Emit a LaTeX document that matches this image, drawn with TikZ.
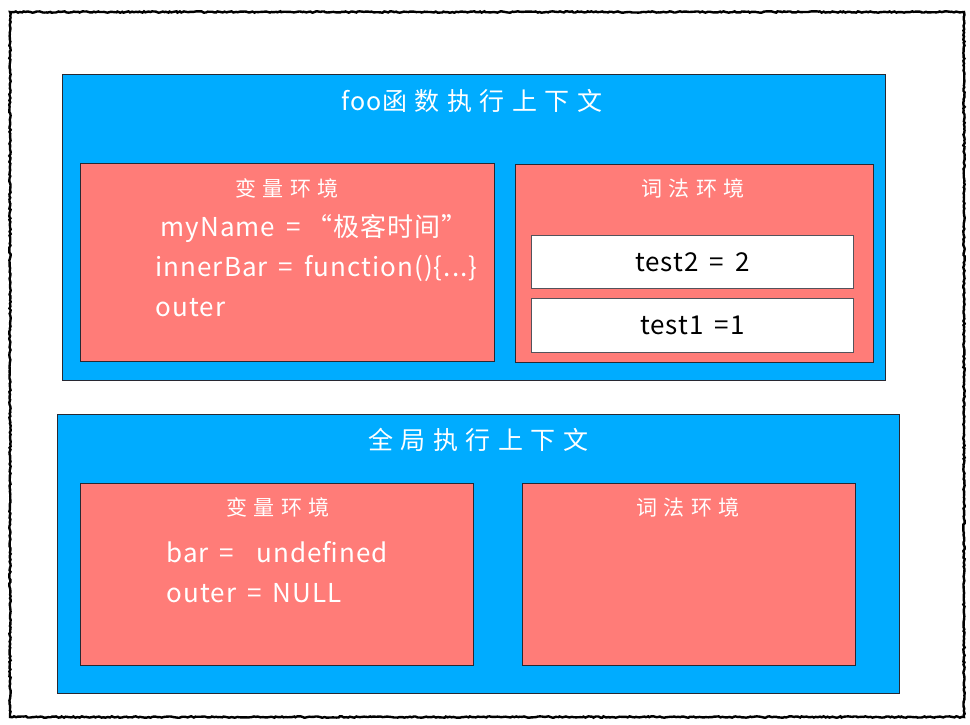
\documentclass[tikz,border=0pt]{standalone}
\usepackage{fontspec}
\usepackage{xcolor}
\setmainfont{Noto Sans CJK SC}
\newfontfamily\titlefont[LetterSpace=30]{Noto Sans CJK SC}
\newfontfamily\codefont[LetterSpace=4, WordSpace=1.6]{Noto Sans CJK SC}
\usetikzlibrary{decorations.pathmorphing}
\definecolor{ctxblue}{RGB}{0,172,255}
\definecolor{envred}{RGB}{255,124,120}
\definecolor{edgegray}{RGB}{40,40,50}

\tikzset{
  ctxbox/.style={draw=edgegray, line width=1.3pt, fill=ctxblue, anchor=north west, inner sep=0pt},
  envbox/.style={draw=edgegray, line width=1.3pt, fill=envred, anchor=north west, inner sep=0pt},
  slotbox/.style={draw=edgegray!80, line width=0.8pt, fill=white, anchor=north west, inner sep=0pt},
  ctxtitle/.style={text=white, font=\titlefont\fontsize{25}{30}\selectfont},
  envtitle/.style={text=white, font=\titlefont\fontsize{21}{26}\selectfont},
  codeline/.style={text=white, anchor=west, font=\codefont\fontsize{26}{30}\selectfont},
  slottext/.style={text=black, font=\codefont\fontsize{26}{30}\selectfont}
}

\begin{document}
\begin{tikzpicture}[x=1pt,y=-1pt]
  \useasboundingbox (0,0) rectangle (970,724);

%sketchy outer frame:
  \draw[line width=2.4pt, decorate, decoration={random steps, segment length=2pt, amplitude=0.7pt}]
    (10,12) rectangle (964,717);

%foo context:
  \node[ctxbox, minimum width=823pt, minimum height=306pt] (fooctx) at (62,74) {};
  \node[ctxtitle] (footitle) at (472,101) {{\codefont foo}函数执行上下文};

  \node[envbox, minimum width=414pt, minimum height=198pt] (foovar) at (80,163) {};
  \node[envtitle] (foovartitle) at (287,188) {变量环境};
  \node[codeline] (myname) at (157,228) {myName = \kern-5pt“极客时间”};
  \node[codeline] (innerbar) at (152,268) {innerBar = function()\{...\}};
  \node[codeline] (fooouter) at (152,308) {outer};

  \node[envbox, minimum width=358pt, minimum height=198pt] (foolex) at (515,164) {};
  \node[envtitle] (foolextitle) at (693,188) {词法环境};
  \node[slotbox, minimum width=322pt, minimum height=53pt] (slottwo) at (531,235) {};
  \node[slottext] (testtwo) at (slottwo.center) {test2 = 2};
  \node[slotbox, minimum width=322pt, minimum height=54pt] (slotone) at (531,298) {};
  \node[slottext] (testone) at (slotone.center) {test1 =1};

%global context:
  \node[ctxbox, minimum width=842pt, minimum height=279pt] (globalctx) at (57,414) {};
  \node[ctxtitle] (globaltitle) at (478,440) {全局执行上下文};

  \node[envbox, minimum width=393pt, minimum height=182pt] (globalvar) at (80,483) {};
  \node[envtitle] (globalvartitle) at (278,507) {变量环境};
  \node[codeline] (barline) at (163,552) {bar =\ \ undefined};
  \node[codeline] (globalouter) at (163,593) {outer = NULL};

  \node[envbox, minimum width=333pt, minimum height=182pt] (globallex) at (522,483) {};
  \node[envtitle] (globallextitle) at (688,507) {词法环境};

\end{tikzpicture}
\end{document}
